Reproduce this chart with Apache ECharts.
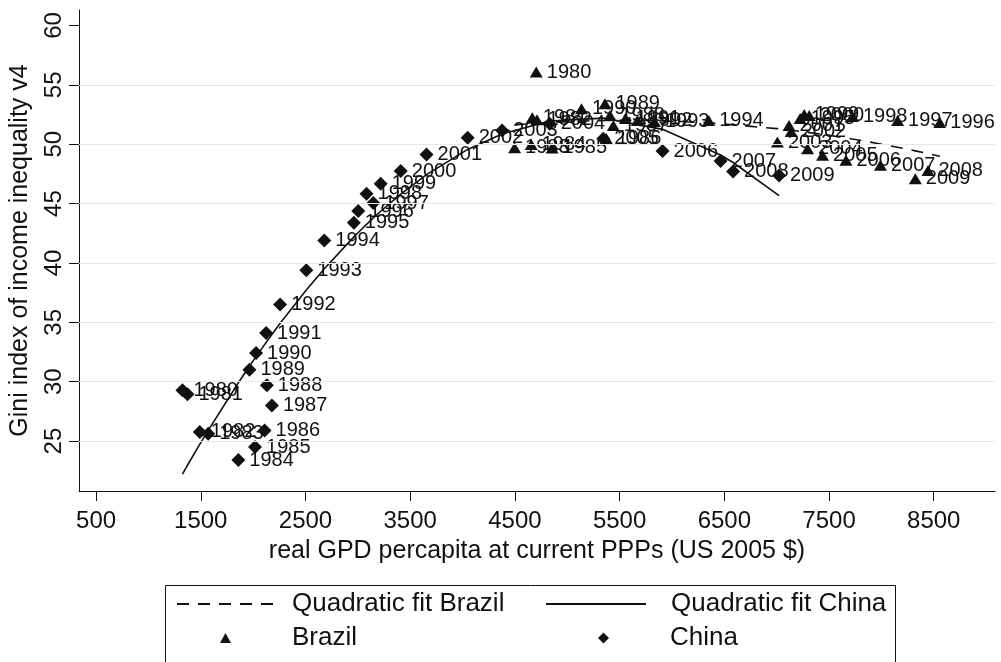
<!DOCTYPE html>
<html>
<head>
<meta charset="utf-8">
<script src="https://cdn.jsdelivr.net/npm/echarts@6/dist/echarts.min.js"></script>
<style>
html,body{margin:0;padding:0;background:#fff;}
#chart{width:1001px;height:662px;}
</style>
</head>
<body>
<div id="chart"></div>
<script>
// ---- data ----
const chinaYears = [1980,1981,1982,1983,1984,1985,1986,1987,1988,1989,1990,1991,1992,1993,1994,1995,1996,1997,1998,1999,2000,2001,2002,2003,2004,2005,2006,2007,2008,2009];
const chinaGdp  = [1325,1373,1491,1571,1859,2018,2109,2179,2131,1965,2028,2124,2258,2508,2680,2962,3004,3148,3083,3218,3410,3656,4049,4378,4832,5344,5910,6464,6584,7023];
const chinaGini = [29.28,28.94,25.77,25.63,23.4,24.5,25.9,28.0,29.7,31.0,32.42,34.1,36.51,39.38,41.9,43.39,44.37,45.04,45.83,46.67,47.74,49.14,50.55,51.16,51.73,50.46,49.42,48.58,47.71,47.37];

const brazilYears = [1980,1981,1982,1983,1984,1985,1986,1987,1988,1989,1990,1991,1992,1993,1994,1995,1996,1997,1998,1999,2000,2001,2002,2003,2004,2005,2006,2007,2008,2009];
const brazilGdp  = [4704,4666,4711,4497,4656,4855,5373,5440,5408,5360,5136,5555,5670,5833,6351,7224,8558,8155,7723,7263,7311,7118,7138,7007,7295,7438,7662,7991,8445,8324];
const brazilGini = [56.07,52.23,52.06,49.7,49.98,49.69,50.49,51.58,52.42,53.41,52.99,52.17,52.0,51.92,52.0,52.17,51.83,52.0,52.34,52.51,52.42,51.58,51.08,50.18,49.62,49.06,48.64,48.22,47.79,47.1];

const xTicks = [500,1500,2500,3500,4500,5500,6500,7500,8500];
const yTicks = [25,30,35,40,45,50,55,60];

// ---- quadratic least-squares fit (what "Quadratic fit" means) ----
function qfit(xs, ys){
  const n = xs.length; let S=[0,0,0,0,0], T=[0,0,0];
  for(let i=0;i<n;i++){const x=xs[i]/1000, y=ys[i]; let p=1;
    for(let k=0;k<5;k++){S[k]+=p; if(k<3) T[k]+=p*y; p*=x;}}
  const A=[[S[0],S[1],S[2],T[0]],[S[1],S[2],S[3],T[1]],[S[2],S[3],S[4],T[2]]];
  for(let c=0;c<3;c++){ for(let r=c+1;r<3;r++){const f=A[r][c]/A[c][c]; for(let k=c;k<4;k++) A[r][k]-=f*A[c][k];}}
  const b=[0,0,0];
  for(let r=2;r>=0;r--){let s=A[r][3]; for(let k=r+1;k<3;k++) s-=A[r][k]*b[k]; b[r]=s/A[r][r];}
  const sx = xs.slice().sort((a,b)=>a-b);
  return sx.map(x=>{const t=x/1000; return [x, b[0]+b[1]*t+b[2]*t*t];});
}

const FONT = "'Liberation Sans', Arial, Helvetica, sans-serif";
const INK = '#111';

const chart = echarts.init(document.getElementById('chart'), null, {renderer:'canvas'});
const pts = (xs, ys, yrs) => xs.map((x,i)=>({value:[x, ys[i]], name:String(yrs[i])}));
const labelCfg = {show:true, position:'right', distance:4, formatter:p=>p.name, color:INK, fontSize:20, fontFamily:FONT};
const legText = pad => ({fontSize:26, color:INK, fontFamily:FONT, padding:[0,0,0,pad]});

chart.setOption({
  animation:false,
  backgroundColor:'#fff',
  textStyle:{fontFamily:FONT, color:INK},
  grid:{left:78, right:6, top:10, bottom:171, containLabel:false},
  xAxis:{
    type:'value', min:337, max:9085,
    name:'real GPD percapita at current PPPs (US 2005 $)', nameLocation:'middle', nameGap:48,
    nameTextStyle:{fontSize:25, color:INK, fontFamily:FONT},
    axisLine:{show:true, lineStyle:{color:INK, width:1}},
    axisTick:{show:true, length:10, customValues:xTicks, lineStyle:{color:INK}},
    axisLabel:{customValues:xTicks, formatter:v=>String(v), fontSize:24, color:INK, margin:18, fontFamily:FONT},
    splitLine:{show:false}
  },
  yAxis:{
    type:'value', min:20.8, max:61.3,
    name:'Gini index of income inequality v4', nameLocation:'middle', nameGap:46,
    nameTextStyle:{fontSize:25, color:INK, fontFamily:FONT},
    axisLine:{show:true, lineStyle:{color:INK, width:1}},
    axisTick:{show:true, length:10, customValues:yTicks, lineStyle:{color:INK}},
    axisLabel:{customValues:yTicks, formatter:v=>String(v), rotate:90, fontSize:24, color:INK, margin:13, fontFamily:FONT},
    splitLine:{show:false}
  },
  legend:[
    {data:['Quadratic fit Brazil'], left:176, top:591, padding:0, itemWidth:100, itemHeight:14, itemStyle:{opacity:0}, textStyle:legText(10)},
    {data:['Quadratic fit China'], left:545, top:591, padding:0, itemWidth:100, itemHeight:14, itemStyle:{opacity:0}, textStyle:legText(20)},
    {data:['Brazil'], left:220, top:625, padding:0, itemWidth:11, itemHeight:10, textStyle:legText(56)},
    {data:['China'], left:598, top:625, padding:0, itemWidth:11, itemHeight:11, textStyle:legText(56)}
  ],
  graphic:[{type:'rect', left:163, top:583, shape:{width:730, height:78}, style:{fill:'none', stroke:INK, lineWidth:1}, silent:true}],
  series:[
    {name:'grid', type:'line', data:[], silent:true,
     markLine:{silent:true, symbol:['none','none'], label:{show:false},
       lineStyle:{color:'#e8e8e8', width:1, type:'solid'},
       data:yTicks.slice(0,-1).map(v=>({yAxis:v}))}},
    {name:'Quadratic fit Brazil', type:'line', data:qfit(brazilGdp, brazilGini), symbol:'none', showSymbol:false,
     lineStyle:{color:INK, width:1.6, type:[12,9]}, itemStyle:{color:INK}, z:3},
    {name:'Quadratic fit China', type:'line', data:qfit(chinaGdp, chinaGini), symbol:'none', showSymbol:false,
     lineStyle:{color:INK, width:1.6, type:'solid'}, itemStyle:{color:INK}, z:3},
    {name:'Brazil', type:'scatter', symbol:'triangle', symbolSize:[13,11], itemStyle:{color:INK, opacity:1},
     data:pts(brazilGdp, brazilGini, brazilYears), label:labelCfg, z:4},
    {name:'China', type:'scatter', symbol:'diamond', symbolSize:[14,14], itemStyle:{color:INK, opacity:1},
     data:pts(chinaGdp, chinaGini, chinaYears), label:labelCfg, z:4}
  ]
});
</script>
</body>
</html>
